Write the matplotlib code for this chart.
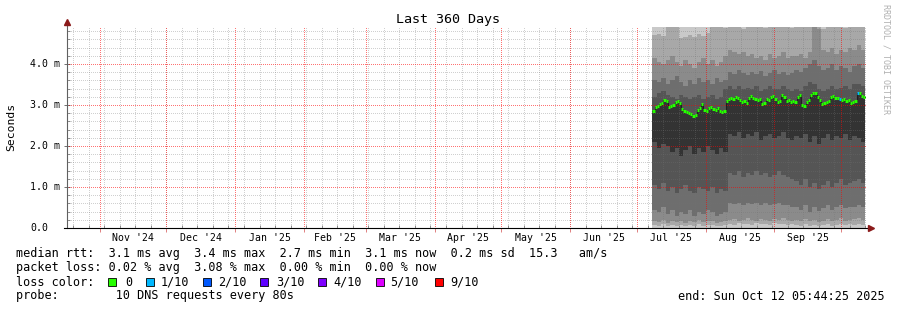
import matplotlib
matplotlib.use("Agg")
import matplotlib.pyplot as plt
import matplotlib.dates as mdates
from matplotlib.patches import Rectangle
import numpy as np
from datetime import datetime, timedelta

plt.rcParams["lines.scale_dashes"] = False

W, H, DPI = 897, 310, 100
FONT = "DejaVu Sans Mono"

# ---------------- data ----------------
title = "Last 360 Days"
y_label = "Seconds"
watermark = "RRDTOOL / TOBI OETIKER"
end_time = datetime(2025, 10, 12, 5, 44, 25)
start_time = end_time - timedelta(days=360)
data_start = datetime(2025, 7, 8)
band_step_days = 2
median_step_days = 1

y_max = 4.9
y_ticks = [0, 1, 2, 3, 4]
y_tick_labels = ["0.0", "1.0 m", "2.0 m", "3.0 m", "4.0 m"]
month_labels = ["Nov '24", "Dec '24", "Jan '25", "Feb '25", "Mar '25", "Apr '25",
                "May '25", "Jun '25", "Jul '25", "Aug '25", "Sep '25"]

# smoke band edges (ms), one value per 2-day bin
u1 = [4.70, 4.72, 4.68, 5.00, 5.00, 5.00, 4.62, 4.65, 4.70, 4.66, 4.72, 4.68, 4.75,
      4.90, 5.00, 5.00, 4.88, 5.00, 5.00, 5.00, 4.86, 5.00, 5.00, 5.00, 5.00, 4.88,
      5.00, 5.00, 5.00, 5.00, 5.00, 4.87, 5.00, 5.00, 5.00, 5.00, 5.00, 5.00, 4.86,
      5.00, 5.00, 5.00, 5.00, 4.88, 5.00, 5.00, 5.00, 5.00]
u2 = [4.15, 4.05, 4.00, 4.10, 4.20, 4.05, 3.95, 4.10, 4.00, 3.90, 4.05, 4.15, 4.00,
      4.10, 3.95, 4.05, 4.20,
      4.35, 4.30, 4.25, 4.30, 4.20, 4.25, 4.15, 4.20, 4.10, 4.25, 4.15, 4.20, 4.30,
      4.15, 4.20,
      4.20, 4.25, 4.15, 4.30, 4.90, 4.85, 4.35, 4.30, 4.40, 4.25, 4.35, 4.30, 4.40,
      4.35, 4.45, 4.35]
u3 = [3.60, 3.55, 3.65, 3.50, 3.60, 3.70, 3.55, 3.45, 3.60, 3.50, 3.65, 3.55, 3.60,
      3.50, 3.65, 3.55, 3.60,
      3.80, 3.75, 3.85, 3.78, 3.72, 3.80, 3.75, 3.82, 3.70, 3.78, 3.85, 3.75, 3.80,
      3.72, 3.78,
      3.85, 3.80, 3.90, 4.00, 4.10, 3.95, 3.85, 3.90, 4.00, 3.85, 3.95, 3.90, 3.80,
      3.95, 4.00, 3.90]
u4 = [3.20, 3.30, 3.35, 3.25, 3.20, 3.15, 3.25, 3.20, 3.15, 3.20, 3.25, 3.15, 3.20,
      3.25, 3.15, 3.20, 3.40,
      3.45, 3.40, 3.45, 3.38, 3.42, 3.40, 3.45, 3.35, 3.40, 3.45, 3.40, 3.38, 3.45,
      3.40, 3.35,
      3.40, 3.35, 3.45, 3.55, 3.50, 3.40, 3.35, 3.40, 3.45, 3.38, 3.42, 3.45, 3.40,
      3.50, 3.52, 3.45]
l4 = [2.10, 1.95, 2.05, 2.00, 1.85, 1.95, 1.75, 1.90, 2.00, 1.80, 1.95, 1.85, 2.00,
      1.90, 1.80, 1.95, 1.85,
      2.30, 2.25, 2.35, 2.20, 2.30, 2.25, 2.35, 2.15, 2.25, 2.30, 2.20, 2.25, 2.35,
      2.20, 2.15,
      2.25, 2.20, 2.30, 2.10, 2.25, 2.05, 2.20, 2.30, 2.15, 2.25, 2.20, 2.30, 2.15,
      2.25, 2.20, 2.10]
l3 = [1.05, 0.95, 1.10, 0.90, 1.00, 0.85, 0.95, 1.05, 0.90, 0.85, 1.00, 0.95, 0.90,
      1.00, 0.85, 0.95, 0.90,
      1.35, 1.30, 1.40, 1.25, 1.35, 1.30, 1.40, 1.28, 1.35, 1.25, 1.30, 1.38, 1.30,
      1.25, 1.20,
      1.15, 1.05, 1.20, 1.00, 1.10, 0.95, 1.05, 1.15, 1.00, 1.10, 1.20, 1.05, 1.10,
      1.15, 1.20, 1.10]
l2 = [0.45, 0.40, 0.50, 0.35, 0.45, 0.30, 0.40, 0.35, 0.45, 0.30, 0.40, 0.35, 0.45,
      0.40, 0.30, 0.35, 0.40,
      0.60, 0.58, 0.62, 0.55, 0.60, 0.58, 0.62, 0.56, 0.60, 0.55, 0.58, 0.62, 0.56,
      0.55, 0.52,
      0.50, 0.45, 0.55, 0.40, 0.50, 0.42, 0.48, 0.55, 0.45, 0.50, 0.55, 0.48, 0.50,
      0.52, 0.55, 0.50]
l1 = [0.18, 0.15, 0.20, 0.12, 0.18, 0.14, 0.16, 0.12, 0.18, 0.15, 0.20, 0.14, 0.16,
      0.18, 0.12, 0.15, 0.18,
      0.20, 0.22, 0.18, 0.20, 0.24, 0.20, 0.18, 0.22, 0.20, 0.18, 0.22, 0.20, 0.24,
      0.20, 0.18,
      0.20, 0.18, 0.22, 0.16, 0.20, 0.15, 0.18, 0.22, 0.16, 0.20, 0.24, 0.18, 0.20,
      0.22, 0.25, 0.20]
l0 = [0.08, 0.06, 0.10, 0.05, 0.08, 0.06, 0.07, 0.05, 0.08, 0.06, 0.09, 0.05, 0.07,
      0.08, 0.05, 0.06, 0.08,
      0.10, 0.08, 0.12, 0.09, 0.10, 0.08, 0.11, 0.09, 0.10, 0.08, 0.12, 0.10, 0.09,
      0.08, 0.10,
      0.08, 0.06, 0.10, 0.05, 0.08, 0.06, 0.07, 0.10, 0.06, 0.08, 0.10, 0.07, 0.09,
      0.08, 0.10, 0.07]

# median rtt (ms), one value per day
median = [2.85, 2.95, 2.98, 3.02, 3.05, 3.12, 3.10, 2.95, 2.97, 3.00, 3.08, 3.10,
          3.05, 2.90, 2.86, 2.82, 2.80, 2.78, 2.72, 2.75, 2.88, 2.92, 3.02, 2.88,
          2.86, 2.93, 2.95, 2.90, 2.88, 2.92, 2.86, 2.84, 2.86, 3.10, 3.15, 3.18,
          3.15, 3.20, 3.16, 3.12, 3.07, 3.10, 3.05, 3.18, 3.22, 3.18, 3.14, 3.12,
          3.15, 3.02, 3.05, 3.14, 3.12, 3.20, 3.22, 3.15, 3.07, 3.10, 3.25, 3.20,
          3.10, 3.12, 3.07, 3.10, 3.08, 3.20, 3.25, 3.00, 2.97, 3.08, 3.12, 3.25,
          3.28, 3.30, 3.20, 3.12, 3.02, 3.05, 3.08, 3.10, 3.20, 3.22, 3.16, 3.18,
          3.15, 3.12, 3.14, 3.10, 3.12, 3.05, 3.07, 3.10, 3.30, 3.28, 3.22, 3.20]
# packet loss per day (pings lost out of 10)
loss = [0, 0, 0, 0, 0, 0, 0, 0, 0, 0, 0, 0, 0, 0, 0, 0, 0, 0, 0, 0, 0, 0, 0, 0,
        0, 0, 0, 0, 0, 0, 0, 0, 0, 0, 0, 0, 0, 0, 0, 0, 0, 0, 0, 0, 0, 0, 0, 0,
        0, 0, 0, 0, 0, 0, 0, 0, 0, 0, 0, 0, 0, 0, 0, 0, 0, 0, 0, 0, 0, 0, 0, 0,
        0, 0, 0, 0, 0, 0, 0, 0, 0, 0, 0, 0, 1, 0, 0, 0, 0, 0, 0, 0, 1, 0, 0, 0]

loss_levels = ["0", "1/10", "2/10", "3/10", "4/10", "5/10", "9/10"]
loss_level_value = [0, 1, 2, 3, 4, 5, 9]
loss_colors = ["#26ff00", "#00b8ff", "#0059ff", "#5e00ff", "#7e00ff", "#dd00ff", "#ff0000"]

legend_rtt = "median rtt:  3.1 ms avg  3.4 ms max  2.7 ms min  3.1 ms now  0.2 ms sd  15.3   am/s"
legend_loss = "packet loss: 0.02 % avg  3.08 % max  0.00 % min  0.00 % now"
legend_color_title = "loss color:"
legend_probe = "probe:        10 DNS requests every 80s"
legend_end = "end: Sun Oct 12 05:44:25 2025"

# ---------------- figure ----------------
fig = plt.figure(figsize=(W / DPI, H / DPI), dpi=DPI, facecolor="white")
L, R, T, B = 67, 866, 27, 228
ax = fig.add_axes([L / W, 1 - B / H, (R - L) / W, (B - T) / H])
ax.set_facecolor("white")


def fpx(x, y):
    return x / W, 1 - y / H


t0 = mdates.date2num(start_time)
t1 = mdates.date2num(end_time)
ds = mdates.date2num(data_start)

nb = len(u1)
bx = ds + band_step_days * np.arange(nb + 1)
bx[-1] = min(bx[-1], t1)


def ext(a):
    a = np.asarray(a, dtype=float)
    return np.append(a, a[-1])


nm = len(median)
mx = ds + median_step_days * np.arange(nm + 1)
mx[-1] = min(mx[-1], t1)

# smoke layers (outer -> inner)
ax.fill_between(bx, 0, y_max + 1, step="post", color="#c9c9c9", lw=0, zorder=1)
ax.fill_between(bx, ext(l0), ext(u1), step="post", color="#a8a8a8", lw=0, zorder=1.1)
ax.fill_between(bx, ext(l1), ext(u2), step="post", color="#8b8b8b", lw=0, zorder=1.2)
ax.fill_between(bx, ext(l2), ext(u3), step="post", color="#6e6e6e", lw=0, zorder=1.3)
ax.fill_between(bx, ext(l3), ext(u4), step="post", color="#555555", lw=0, zorder=1.4)
l4_daily = np.repeat(np.asarray(l4), band_step_days)[:nm]
ax.fill_between(mx, ext(l4_daily), ext(median), step="post", color="#333333", lw=0, zorder=1.5)

ax.set_xlim(t0, t1)
ax.set_ylim(0, y_max)

# grid positions
month_starts = []
y_, m_ = 2024, 11
while datetime(y_, m_, 1) < end_time:
    month_starts.append(datetime(y_, m_, 1))
    m_ += 1
    if m_ > 12:
        m_, y_ = 1, y_ + 1
sundays = []
d = datetime(2024, 10, 20)
while d < end_time:
    sundays.append(d)
    d += timedelta(days=7)
minor_y = np.arange(0.2, y_max, 0.2)

DOT = (0.36, (0.72, 0.72))   # 1 px on / 1 px off
minor_col = (0.45, 0.45, 0.45, 0.33)
major_col = (1.0, 0.0, 0.0, 0.55)
for v in minor_y:
    if abs(v - round(v)) > 1e-6:
        ax.axhline(v, color=minor_col, lw=0.72, linestyle=DOT, zorder=2.5)
for s in sundays:
    ax.axvline(mdates.date2num(s), color=minor_col, lw=0.72, linestyle=DOT, zorder=2.5)
for v in y_ticks[1:]:
    ax.axhline(v, color=major_col, lw=0.72, linestyle=DOT, zorder=2.6)
for m in month_starts:
    ax.axvline(mdates.date2num(m), color=major_col, lw=0.72, linestyle=DOT, zorder=2.6)

# median line
ax.step(mx, ext(median), where="post", color="#202020", lw=0.8, zorder=3)
seg_colors = [loss_colors[loss_level_value.index(v)] for v in loss]
ax.hlines(median, mx[:-1], mx[1:], colors=seg_colors, lw=2.2, zorder=3.1)

# ticks
ax.set_xticks(mdates.date2num(month_starts))
ax.set_xticks(mdates.date2num(sundays), minor=True)
ax.set_yticks(y_ticks)
ax.set_yticks(minor_y, minor=True)
ax.set_xticklabels([])
ax.set_yticklabels([])
ax.tick_params(axis="x", which="major", direction="out", length=3, color="#e08080", width=0.7)
ax.tick_params(axis="x", which="minor", direction="in", length=2, color="#909090", width=0.7)
ax.tick_params(axis="y", which="major", direction="inout", length=4, color="#707070", width=0.7)
ax.tick_params(axis="y", which="minor", direction="in", length=2, color="#909090", width=0.7)
for s in ["top", "right", "bottom", "left"]:
    ax.spines[s].set_visible(False)

# axis lines with arrows
ax.plot([0, 0], [0, 1.02], transform=ax.transAxes, color="#606060", lw=0.8, clip_on=False, zorder=5)
ax.plot([-0.004, 1.004], [0, 0], transform=ax.transAxes, color="#000000", lw=0.8, clip_on=False, zorder=5)
ax.plot([0], [1.025], marker="^", ms=4.5, color="#8b1a1a", transform=ax.transAxes, clip_on=False, zorder=6)
ax.plot([1.006], [0], marker=">", ms=4.5, color="#8b1a1a", transform=ax.transAxes, clip_on=False, zorder=6)

# y tick labels
for v, lab in zip(y_ticks, y_tick_labels):
    fig.text(*fpx(30, B - (B - T) * v / y_max), lab, ha="left", va="center",
             family=FONT, fontsize=7.1, color="#000000")

# x tick labels at mid month
xtrans = ax.get_xaxis_transform()
for i, lab in enumerate(month_labels):
    a = month_starts[i]
    b = month_starts[i + 1]
    mid = a + (b - a) / 2
    ax.text(mdates.date2num(mid), -0.05, lab, transform=xtrans, ha="center", va="center",
            family=FONT, fontsize=7.1, color="#000000")

fig.text(*fpx(448, 19), title, ha="center", va="center", family=FONT, fontsize=9.6)
fig.text(*fpx(11, 127), y_label, ha="center", va="center", rotation=90, family=FONT, fontsize=8.2)
fig.text(*fpx(886, 4), watermark, ha="center", va="top", rotation=270, family=FONT,
         fontsize=6.0, color="#b0b0b0")

# legend
LX = 16
fig.text(*fpx(LX, 254), legend_rtt, ha="left", va="center", family=FONT, fontsize=8.5)
fig.text(*fpx(LX, 268), legend_loss, ha="left", va="center", family=FONT, fontsize=8.5)
fig.text(*fpx(LX, 282), legend_color_title, ha="left", va="center", family=FONT, fontsize=8.5)
box_x = [108.3, 145.7, 202.7, 260, 317.7, 375.7, 435]
lab_x = [125, 161, 218, 275.7, 333, 390, 450]
for bxp, lx, lab, col in zip(box_x, lab_x, loss_levels, loss_colors):
    x0, y0 = fpx(bxp, 286)
    fig.patches.append(Rectangle((x0, y0), 8 / W, 8 / H, transform=fig.transFigure,
                                 facecolor=col, edgecolor="#000000", lw=0.6))
    fig.text(*fpx(lx, 282), lab, ha="left", va="center", family=FONT, fontsize=8.5)
fig.text(*fpx(LX, 296), legend_probe, ha="left", va="center", family=FONT, fontsize=8.5)
fig.text(*fpx(677.7, 296), legend_end, ha="left", va="center", family=FONT, fontsize=8.5)

fig.savefig("out.png", dpi=DPI, facecolor="white")
